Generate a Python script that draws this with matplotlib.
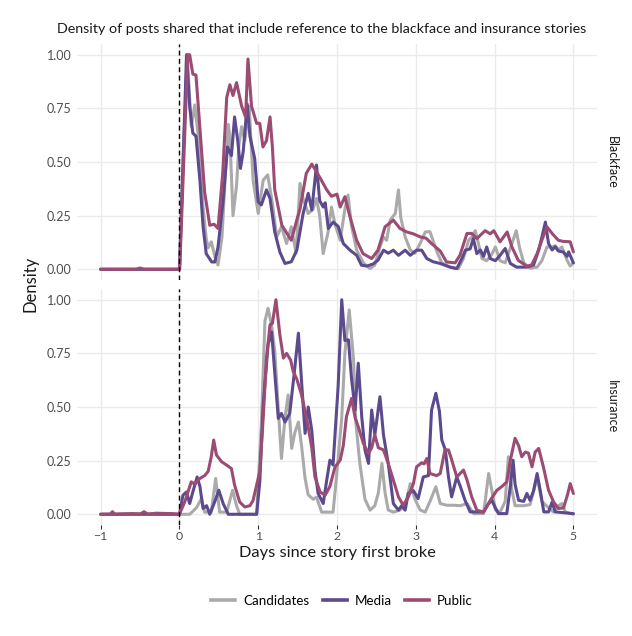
import numpy as np
import matplotlib.pyplot as plt
from matplotlib.lines import Line2D

plt.rcParams['font.family'] = ['Lato', 'DejaVu Sans']

# ---- data: days since story broke / scaled density ----
# Blackface
bf_cand_x = [-1, 0, 0.055, 0.10, 0.15, 0.195, 0.235, 0.30, 0.34, 0.365, 0.405, 0.45, 0.49, 0.54, 0.575,
             0.62, 0.64, 0.68, 0.725, 0.755, 0.79, 0.83, 0.885, 0.935, 1.0, 1.063, 1.12, 1.175, 1.235,
             1.295, 1.36, 1.42, 1.48, 1.53, 1.57, 1.635, 1.695, 1.74, 1.78, 1.825, 1.885, 1.93, 1.975,
             2.04, 2.10, 2.14, 2.185, 2.25, 2.335, 2.42, 2.48, 2.545, 2.59, 2.63, 2.675, 2.74, 2.78,
             2.81, 2.865, 2.93, 2.99, 3.055, 3.12, 3.18, 3.27, 3.33, 3.435, 3.54, 3.605, 3.67, 3.71,
             3.755, 3.795, 3.84, 3.90, 3.965, 4.01, 4.07, 4.135, 4.22, 4.275, 4.315, 4.37, 4.45, 4.54,
             4.60, 4.665, 4.73, 4.77, 4.81, 4.855, 4.92, 4.96, 5.0]
bf_cand_y = [0, 0, 0.6, 1.0, 0.665, 0.766, 0.634, 0.29, 0.143, 0.10, 0.128, 0.06, 0.02, 0.15, 0.39,
             0.675, 0.62, 0.25, 0.39, 0.58, 0.665, 0.60, 0.76, 0.415, 0.26, 0.415, 0.44, 0.32, 0.151,
             0.198, 0.12, 0.198, 0.075, 0.40, 0.33, 0.26, 0.28, 0.33, 0.25, 0.073, 0.17, 0.29, 0.21,
             0.135, 0.28, 0.346, 0.20, 0.089, 0.03, 0.003, 0.02, 0.104, 0.15, 0.135, 0.229, 0.26, 0.37,
             0.24, 0.151, 0.09, 0.075, 0.12, 0.174, 0.175, 0.08, 0.03, 0.01, 0.003, 0.05, 0.135, 0.15,
             0.18, 0.12, 0.05, 0.04, 0.07, 0.104, 0.04, 0.03, 0.12, 0.18, 0.104, 0.03, 0.005, 0.01,
             0.04, 0.104, 0.104, 0.11, 0.09, 0.104, 0.042, 0.015, 0.03]

bf_media_x = [-1, 0, 0.055, 0.09, 0.13, 0.17, 0.21, 0.26, 0.30, 0.34, 0.41, 0.45, 0.49, 0.555, 0.61,
              0.66, 0.70, 0.74, 0.775, 0.81, 0.86, 0.895, 0.955, 1.0, 1.04, 1.105, 1.15, 1.21, 1.275,
              1.34, 1.42, 1.49, 1.57, 1.635, 1.68, 1.74, 1.78, 1.825, 1.85, 1.89, 1.95, 2.015, 2.08,
              2.165, 2.25, 2.31, 2.38, 2.46, 2.52, 2.59, 2.65, 2.715, 2.78, 2.865, 2.93, 3.01, 3.075,
              3.14, 3.22, 3.31, 3.435, 3.52, 3.585, 3.63, 3.69, 3.73, 3.775, 3.82, 3.86, 3.90, 3.945,
              4.01, 4.07, 4.135, 4.20, 4.28, 4.41, 4.495, 4.56, 4.62, 4.645, 4.685, 4.73, 4.77, 4.81,
              4.875, 4.92, 4.94, 5.0]
bf_media_y = [0, 0, 0.6, 1.0, 0.76, 0.635, 0.62, 0.415, 0.2, 0.073, 0.034, 0.034, 0.104, 0.32, 0.57,
              0.53, 0.71, 0.60, 0.47, 0.55, 0.77, 0.62, 0.517, 0.315, 0.30, 0.37, 0.33, 0.174, 0.08,
              0.027, 0.035, 0.089, 0.26, 0.354, 0.276, 0.486, 0.32, 0.29, 0.31, 0.19, 0.22, 0.2, 0.12,
              0.089, 0.065, 0.019, 0.015, 0.025, 0.042, 0.089, 0.075, 0.089, 0.065, 0.089, 0.065, 0.089, 0.089,
              0.05, 0.035, 0.027, 0.01, 0.003, 0.05, 0.089, 0.095, 0.143, 0.073, 0.09, 0.06, 0.104, 0.05,
              0.04, 0.065, 0.097, 0.027, 0.01, 0.01, 0.02, 0.089, 0.18, 0.22, 0.12, 0.09, 0.105, 0.085,
              0.08, 0.06, 0.081, 0.03]

bf_public_x = [-1, -0.55, -0.5, -0.45, 0, 0.004, 0.105, 0.13, 0.17, 0.21, 0.32, 0.385, 0.44, 0.49, 0.55,
               0.60, 0.64, 0.68, 0.725, 0.79, 0.84, 0.87, 0.915, 0.98, 1.02, 1.06, 1.105, 1.15, 1.18,
               1.21, 1.30, 1.36, 1.42, 1.49, 1.53, 1.61, 1.68, 1.74, 1.80, 1.87, 1.93, 2.0, 2.04, 2.10,
               2.165, 2.25, 2.33, 2.44, 2.52, 2.61, 2.715, 2.80, 2.885, 2.97, 3.055, 3.13, 3.20, 3.31,
               3.39, 3.50, 3.56, 3.65, 3.71, 3.775, 3.88, 3.945, 3.99, 4.07, 4.16, 4.22, 4.30, 4.41,
               4.47, 4.54, 4.60, 4.665, 4.73, 4.81, 4.87, 4.96, 5.0]
bf_public_y = [0, 0, 0.006, 0, 0, 0, 1.0, 1.0, 0.91, 0.905, 0.36, 0.205, 0.21, 0.19, 0.45,
               0.80, 0.86, 0.81, 0.87, 0.76, 0.71, 0.98, 0.76, 0.68, 0.68, 0.57, 0.60, 0.71, 0.57,
               0.37, 0.205, 0.17, 0.135, 0.23, 0.28, 0.447, 0.49, 0.455, 0.416, 0.37, 0.34, 0.35, 0.29, 0.338,
               0.244, 0.135, 0.073, 0.05, 0.089, 0.198, 0.229, 0.19, 0.174, 0.165, 0.151, 0.145, 0.12, 0.085,
               0.034, 0.03, 0.065, 0.167, 0.167, 0.143, 0.18, 0.165, 0.18, 0.128, 0.174, 0.104, 0.042, 0.014,
               0.02, 0.073, 0.135, 0.198, 0.167, 0.135, 0.13, 0.128, 0.081]

# Insurance
ins_cand_x = [-1, -0.5, 0, 0.13, 0.215, 0.28, 0.32, 0.405, 0.46, 0.51, 0.60, 0.675, 0.725, 0.765, 0.98,
              1.04, 1.085, 1.125, 1.17, 1.21, 1.255, 1.295, 1.34, 1.38, 1.425, 1.465, 1.51, 1.55, 1.595,
              1.635, 1.70, 1.74, 1.805, 1.95, 2.0, 2.06, 2.10, 2.155, 2.21, 2.24, 2.29, 2.355, 2.42,
              2.48, 2.525, 2.57, 2.61, 2.65, 2.715, 2.80, 2.865, 2.93, 2.99, 3.055, 3.12, 3.18, 3.255,
              3.31, 3.395, 3.48, 3.565, 3.65, 3.735, 3.86, 3.925, 3.965, 4.01, 4.07, 4.135, 4.175, 4.22,
              4.26, 4.37, 4.45, 4.54, 4.60, 4.685, 4.75, 4.81, 4.855, 4.90, 5.0]
ins_cand_y = [0, 0.003, 0, 0, 0.03, 0.073, 0.01, 0.01, 0.167, 0.01, 0.01, 0.112, 0.04, 0, 0,
              0.416, 0.9, 0.96, 0.88, 0.76, 0.49, 0.26, 0.45, 0.556, 0.307, 0.38, 0.43, 0.32, 0.167,
              0.09, 0.07, 0.08, 0.01, 0.01, 0.2, 0.45, 0.75, 0.953, 0.72, 0.424, 0.237, 0.07, 0.019,
              0.04, 0.1, 0.237, 0.1, 0.02, 0.01, 0.02, 0.04, 0.143, 0.07, 0.02, 0.01, 0.06, 0.128,
              0.05, 0.042, 0.042, 0.04, 0.05, 0.003, 0.003, 0.19, 0.112, 0.02, 0.01, 0.06, 0.268, 0.112,
              0.04, 0.04, 0.045, 0.17, 0.06, 0.03, 0.01, 0.04, 0.05, 0.01, 0]

ins_media_x = [-1, 0, 0.045, 0.09, 0.13, 0.17, 0.225, 0.26, 0.30, 0.345, 0.385, 0.45, 0.50, 0.555, 0.62,
               0.98, 1.02, 1.063, 1.125, 1.17, 1.21, 1.255, 1.295, 1.34, 1.40, 1.455, 1.51, 1.55, 1.595,
               1.635, 1.68, 1.72, 1.76, 1.825, 1.87, 1.91, 1.95, 2.015, 2.06, 2.10, 2.145, 2.185, 2.23,
               2.27, 2.315, 2.355, 2.40, 2.44, 2.48, 2.545, 2.59, 2.65, 2.715, 2.78, 2.82, 2.865, 2.905,
               2.97, 3.03, 3.095, 3.16, 3.20, 3.255, 3.30, 3.33, 3.375, 3.415, 3.455, 3.52, 3.565, 3.625,
               3.69, 3.86, 3.925, 3.965, 4.01, 4.05, 4.155, 4.20, 4.235, 4.26, 4.305, 4.37, 4.41, 4.45,
               4.495, 4.54, 4.58, 4.625, 4.685, 4.73, 4.77, 5.0]
ins_media_y = [0, 0, 0.089, 0.104, 0.05, 0.104, 0.174, 0.13, 0.027, 0.04, 0.0, 0.06, 0.112, 0.05, 0.0,
               0.0, 0.151, 0.51, 0.79, 0.85, 0.66, 0.447, 0.47, 0.43, 0.47, 0.65, 0.844, 0.62, 0.377,
               0.5, 0.39, 0.206, 0.097, 0.05, 0.16, 0.252, 0.23, 0.6, 1.0, 0.81, 0.813, 0.63, 0.486,
               0.704, 0.45, 0.3, 0.237, 0.486, 0.37, 0.548, 0.37, 0.237, 0.05, 0.019, 0.04, 0.019, 0.097,
               0.11, 0.073, 0.174, 0.18, 0.486, 0.564, 0.48, 0.346, 0.3, 0.174, 0.081, 0.174, 0.13, 0.065,
               0.011, 0.011, 0.05, 0.065, 0.03, 0.003, 0.003, 0.13, 0.252, 0.14, 0.065, 0.06, 0.097, 0.065,
               0.11, 0.19, 0.11, 0.011, 0.011, 0.057, 0.011, 0.003]

ins_public_x = [-1, -0.88, -0.85, -0.82, -0.6, -0.5, -0.45, -0.4, -0.3, -0.1, 0, 0.07, 0.15, 0.195, 0.26,
                0.32, 0.365, 0.405, 0.435, 0.47, 0.535, 0.60, 0.66, 0.70, 0.765, 0.83, 0.895, 0.935, 0.98,
                1.02, 1.063, 1.105, 1.15, 1.18, 1.225, 1.275, 1.32, 1.36, 1.41, 1.445, 1.49, 1.55, 1.615,
                1.68, 1.72, 1.785, 1.85, 1.91, 1.975, 2.04, 2.08, 2.12, 2.185, 2.23, 2.27, 2.335, 2.40,
                2.44, 2.48, 2.525, 2.59, 2.65, 2.715, 2.78, 2.84, 2.905, 2.97, 3.01, 3.075, 3.105, 3.14,
                3.18, 3.265, 3.31, 3.37, 3.415, 3.455, 3.52, 3.605, 3.65, 3.71, 3.775, 3.86, 3.945, 4.03,
                4.095, 4.155, 4.20, 4.26, 4.305, 4.345, 4.39, 4.43, 4.475, 4.515, 4.56, 4.62, 4.685, 4.75,
                4.81, 4.875, 4.925, 4.96, 5.0]
ins_public_y = [0, 0, 0.012, 0, 0.003, 0, 0.012, 0, 0.005, 0.003, 0, 0.06, 0.151, 0.14, 0.167,
                0.18, 0.2, 0.27, 0.346, 0.276, 0.245, 0.229, 0.213, 0.136, 0.057, 0.034, 0.04, 0.065, 0.136,
                0.2, 0.447, 0.728, 0.883, 0.89, 1.0, 0.836, 0.728, 0.75, 0.72, 0.665, 0.63, 0.556, 0.447,
                0.31, 0.174, 0.104, 0.089, 0.13, 0.221, 0.252, 0.32, 0.455, 0.54, 0.45, 0.408, 0.33, 0.284,
                0.31, 0.37, 0.31, 0.3, 0.237, 0.16, 0.081, 0.042, 0.08, 0.143, 0.221, 0.24, 0.235, 0.26,
                0.19, 0.18, 0.19, 0.3, 0.3, 0.255, 0.174, 0.206, 0.16, 0.081, 0.019, 0.01, 0.065, 0.112,
                0.13, 0.151, 0.252, 0.354, 0.32, 0.268, 0.29, 0.285, 0.221, 0.29, 0.307, 0.22, 0.112, 0.057,
                0.027, 0.03, 0.09, 0.143, 0.097]

groups = ['Candidates', 'Media', 'Public']
colors = {'Candidates': '#aaaaaa', 'Media': '#5c4a8e', 'Public': '#9c4b72'}
panels = [
    ('Blackface', {'Candidates': (bf_cand_x, bf_cand_y), 'Media': (bf_media_x, bf_media_y),
                   'Public': (bf_public_x, bf_public_y)}),
    ('Insurance', {'Candidates': (ins_cand_x, ins_cand_y), 'Media': (ins_media_x, ins_media_y),
                   'Public': (ins_public_x, ins_public_y)}),
]

fig = plt.figure(figsize=(6.32, 6.36), dpi=100)
W, H = 632, 636
ax_boxes = [(77, 44, 520, 236), (77, 289, 520, 236)]

for i, (name, series) in enumerate(panels):
    l, t, w, h = ax_boxes[i]
    ax = fig.add_axes([l / W, 1 - (t + h) / H, w / W, h / H])
    for g in groups:
        x, y = series[g]
        ax.plot(x, y, color=colors[g], lw=2.2, solid_joinstyle='round', solid_capstyle='round', zorder=3)
    ax.axvline(0, color='black', lw=1.0, ls=(0, (3.5, 2.5)), zorder=4)
    ax.set_xlim(-1.3, 5.3)
    ax.set_ylim(-0.05, 1.05)
    ax.set_yticks([0, 0.25, 0.5, 0.75, 1.0])
    ax.set_yticklabels(['0.00', '0.25', '0.50', '0.75', '1.00'])
    ax.set_xticks(range(-1, 6))
    ax.grid(True, color='#ebebeb', lw=1.0, zorder=0)
    ax.set_axisbelow(True)
    for s in ax.spines.values():
        s.set_visible(False)
    ax.tick_params(axis='y', length=0, labelsize=9, labelcolor='#4d4d4d', pad=4)
    if i == 0:
        ax.tick_params(axis='x', length=0, labelbottom=False)
    else:
        ax.tick_params(axis='x', length=3, width=0.8, color='#333333', labelsize=8.8,
                       labelcolor='#4d4d4d', pad=1.5)
    ax.text(1.018, 0.5, name, transform=ax.transAxes, rotation=-90, va='center', ha='left',
            fontsize=9, color='#1a1a1a')

fig.text(322 / W, 1 - 29 / H, 'Density of posts shared that include reference to the blackface and insurance stories',
         ha='center', va='center', fontsize=10.3, color='#1a1a1a')
fig.text(30 / W, 1 - 284 / H, 'Density', rotation=90, ha='center', va='center', fontsize=12, color='#1a1a1a')
fig.text(337 / W, 1 - 553 / H, 'Days since story first broke', ha='center', va='center', fontsize=11.8,
         color='#1a1a1a')

handles = [Line2D([], [], color=colors[g], lw=2.6) for g in groups]
fig.legend(handles, groups, loc='center', bbox_to_anchor=(342 / W, 1 - 601 / H), ncol=3, frameon=False,
           fontsize=9.6, handlelength=1.8, columnspacing=1.0, handletextpad=0.6)

fig.savefig('out.png', dpi=100)
